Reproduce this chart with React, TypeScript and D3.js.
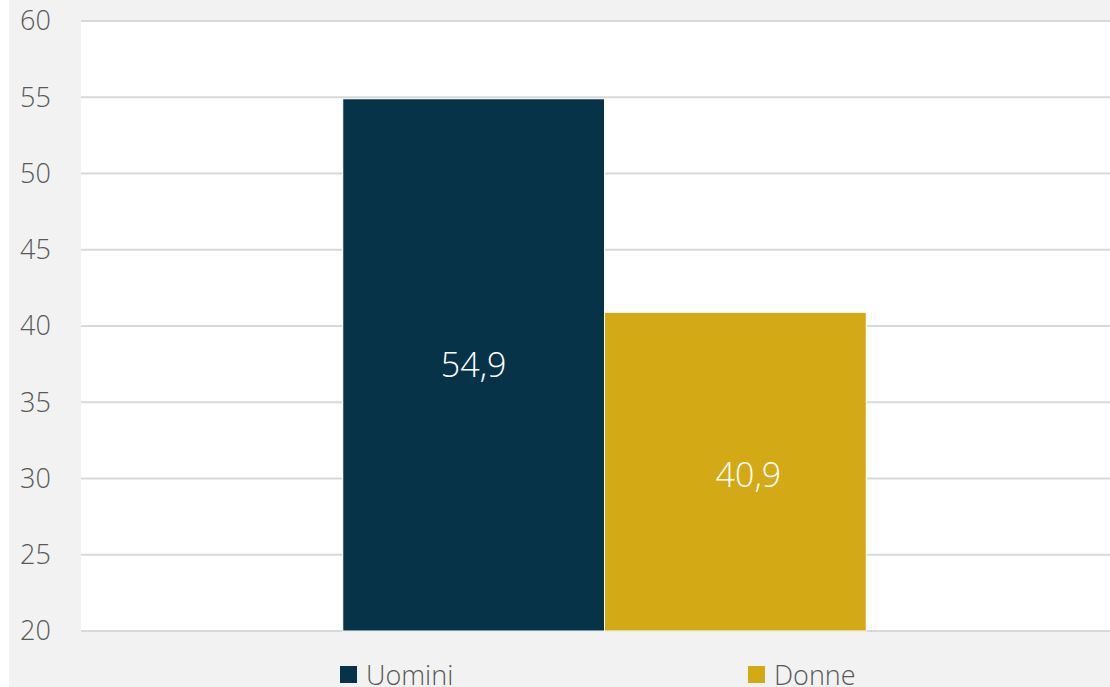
import React from "react";
import * as d3 from "d3";

const categories = ["Uomini", "Donne"];
const values = [54.9, 40.9];
const colors = ["#073349", "#d4a916"];
const yTicks = [20, 25, 30, 35, 40, 45, 50, 55, 60];

export default function App() {
  const W = 1110, H = 687;
  const left = 81, right = 1128, top = 21, bottom = 631;
  const y = d3.scaleLinear().domain([20, 60]).range([bottom, top]);
  const group = d3.scaleBand().domain(["g"]).range([left, right]).paddingInner(0).paddingOuter(0.5);
  const x = d3.scaleBand().domain(categories).range([group("g")!, group("g")! + group.bandwidth()]);
  const font = "'Open Sans', 'Noto Sans', sans-serif";
  return (
    <svg width={W} height={H} style={{ position: "absolute", left: 0, top: 0 }} fontFamily={font} fontWeight={300}>
      <rect x={9} y={0} width={W - 9} height={H} fill="#f2f2f2" />
      <rect x={left} y={top} width={right - left} height={bottom - top} fill="#ffffff" />
      {yTicks.map((t) => (
        <g key={t}>
          <line x1={left} x2={right} y1={y(t)} y2={y(t)} stroke="#d9d9d9" strokeWidth={2} />
          <text x={20} y={y(t)} dy="0.35em" fontSize={27} fill="#595959">{t}</text>
        </g>
      ))}
      {categories.map((c, i) => (
        <g key={c}>
          <rect x={x(c)!} y={y(values[i])} width={x.bandwidth()} height={bottom - y(values[i])} fill={colors[i]} stroke="#ffffff" strokeWidth={1} />
          <text x={x(c)! + x.bandwidth() / 2 + (i === 1 ? 13 : 0)} y={(y(values[i]) + bottom) / 2 + (i === 1 ? 3 : 0)} dy="0.35em" textAnchor="middle" fontSize={34} fill="#ffffff">
            {values[i].toFixed(1).replace(".", ",")}
          </text>
        </g>
      ))}
      {categories.map((c, i) => {
        const lx = i === 0 ? 340 : 748;
        return (
          <g key={"l" + c}>
            <rect x={lx} y={666} width={17} height={17} fill={colors[i]} />
            <text x={lx + 26} y={676} dy="0.35em" fontSize={27} fill="#595959">{c}</text>
          </g>
        );
      })}
    </svg>
  );
}
